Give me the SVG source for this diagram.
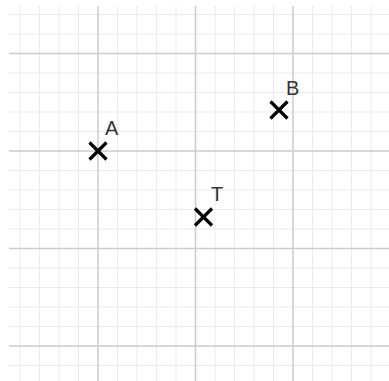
<svg xmlns="http://www.w3.org/2000/svg" width="389" height="381" viewBox="0 0 389 381">
<defs>
<style>
.minor{stroke:#ebebeb;stroke-width:1}
.major{stroke:#cccccc;stroke-width:1.5}
.cross{stroke:#000;stroke-width:3.2;fill:none}
.lbl{font-family:"Liberation Sans",Arial,sans-serif;font-size:20px;fill:#333}
</style>
<path id="x" class="cross" d="M-8.5,-8.5L8.5,8.5M8.5,-8.5L-8.5,8.5"/>
</defs>
<rect width="389" height="381" fill="#fff"/>
<g id="grid">
<g class="minor">
<path d="M20,6V381M39.5,6V381M59,6V381M78.5,6V381M117.5,6V381M137,6V381M156.5,6V381M176,6V381M215,6V381M234.5,6V381M254,6V381M273.5,6V381M312.5,6V381M332,6V381M351.5,6V381M371,6V381"/>
<path d="M9,14.5H389M9,34H389M9,73H389M9,92.5H389M9,112H389M9,131.5H389M9,170.5H389M9,190H389M9,209.5H389M9,229H389M9,268H389M9,287.5H389M9,307H389M9,326.5H389M9,365.5H389"/>
</g>
<g class="major">
<path d="M98,6V381M195.5,6V381M293,6V381"/>
<path d="M9,53.5H389M9,151H389M9,248.5H389M9,346H389"/>
</g>
</g>
<g id="A"><use href="#x" x="98" y="151"/><text class="lbl" x="105" y="135">A</text></g>
<g id="B"><use href="#x" x="279" y="110"/><text class="lbl" x="286" y="95">B</text></g>
<g id="T"><use href="#x" x="203.5" y="217"/><text class="lbl" x="211" y="201">T</text></g>
</svg>
